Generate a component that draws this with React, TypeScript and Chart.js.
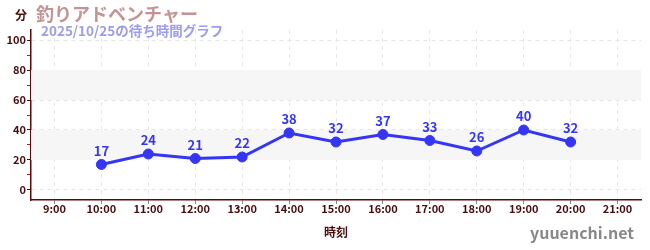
import React, { useEffect, useRef } from "react";
import { Chart, registerables } from "chart.js";

Chart.register(...registerables);

const hours = ["9:00", "10:00", "11:00", "12:00", "13:00", "14:00", "15:00", "16:00", "17:00", "18:00", "19:00", "20:00", "21:00"];
const waitMinutes: (number | null)[] = [null, 17, 24, 21, 22, 38, 32, 37, 33, 26, 40, 32, null];
const yTicks = [0, 10, 20, 30, 40, 50, 60, 70, 80, 90, 100];
const bands: [number, number][] = [[20, 40], [60, 80]];

const titleText = "釣りアドベンチャー";
const subtitleText = "2025/10/25の待ち時間グラフ";
const unitText = "分";
const xTitleText = "時刻";
const watermarkText = "yuuenchi.net";

const FONT = "'Noto Sans CJK JP', 'Noto Sans', sans-serif";
const BLUE = "#3535f5";
const AXIS = "#5a0a0a";
const LABEL = "#4a0d0d";

export default function App() {
  const ref = useRef<HTMLCanvasElement>(null);
  useEffect(() => {
    document.body.style.margin = "0";
    const bandPlugin = {
      id: "bands",
      beforeDatasetsDraw(chart: any) {
        const { ctx, chartArea, scales } = chart;
        ctx.save();
        ctx.fillStyle = "#f6f6f6";
        for (const [a, b] of bands) {
          const y1 = scales.y.getPixelForValue(b);
          const y2 = scales.y.getPixelForValue(a);
          ctx.fillRect(chartArea.left, y1, chartArea.right - chartArea.left, y2 - y1);
        }
        ctx.restore();
      },
    };
    const textPlugin = {
      id: "texts",
      afterDatasetsDraw(chart: any) {
        const { ctx } = chart;
        ctx.save();
        const meta = chart.getDatasetMeta(0);
        ctx.fillStyle = BLUE;
        ctx.font = `bold 13px ${FONT}`;
        ctx.textAlign = "center";
        ctx.textBaseline = "bottom";
        meta.data.forEach((pt: any, i: number) => {
          const v = waitMinutes[i];
          if (v == null) return;
          ctx.fillText(String(v), pt.x, pt.y - 7);
        });
        ctx.restore();
      },
      afterDraw(chart: any) {
        const { ctx, width, height } = chart;
        ctx.save();
        ctx.textBaseline = "middle";
        ctx.textAlign = "left";
        ctx.fillStyle = LABEL;
        ctx.font = `bold 12px ${FONT}`;
        ctx.fillText(unitText, 15, 15);
        ctx.fillStyle = "#c49494";
        ctx.font = `bold 18px ${FONT}`;
        ctx.fillText(titleText, 36, 14);
        ctx.fillStyle = "#9c9cf0";
        ctx.font = `bold 13.5px ${FONT}`;
        ctx.fillText(subtitleText, 41, 31);
        ctx.fillStyle = "#888888";
        ctx.font = `bold 16px ${FONT}`;
        ctx.textAlign = "right";
        ctx.fillText(watermarkText, width - 16, height - 17);
        ctx.restore();
      },
    };
    const chart = new Chart(ref.current!, {
      type: "line",
      data: {
        labels: hours,
        datasets: [
          {
            data: waitMinutes,
            borderColor: BLUE,
            backgroundColor: BLUE,
            borderWidth: 3,
            pointRadius: 5,
            pointHoverRadius: 5,
            pointBorderWidth: 1,
            spanGaps: false,
            tension: 0,
          },
        ],
      },
      options: {
        animation: false,
        responsive: false,
        layout: { padding: { top: 30, right: 9, left: 0, bottom: 0 } },
        plugins: { legend: { display: false }, tooltip: { enabled: false }, title: { display: false } },
        scales: {
          x: {
            type: "category",
            offset: true,
            afterFit(scale: any) { scale.height = 50; },
            grid: {
              color: "#e8e8e8",
              tickColor: "#888888",
              tickLength: 4,
              tickBorderDash: [],
              offset: false,
            },
            border: { color: AXIS, width: 1.5, dash: [4, 4] },
            ticks: { color: LABEL, font: { family: FONT, size: 11, weight: "bold" }, padding: -2, maxRotation: 0, autoSkip: false },
            title: { display: true, text: xTitleText, color: LABEL, font: { family: FONT, size: 12, weight: "bold" }, padding: { top: 0, bottom: 10 } },
          },
          y: {
            min: -6.67,
            max: 106.67,
            afterFit(scale: any) { scale.width = 31; },
            afterBuildTicks(scale: any) { scale.ticks = yTicks.map((v) => ({ value: v })); },
            grid: {
              color: (c: any) => (c.tick && c.tick.value % 20 === 0 ? "#e6e6e6" : "rgba(0,0,0,0)"),
              tickColor: (c: any) => (c.tick && c.tick.value % 20 === 0 ? AXIS : "#d01010"),
              tickLength: 4,
              tickBorderDash: [],
            },
            border: { color: AXIS, width: 1.5, dash: [4, 4] },
            ticks: {
              color: LABEL,
              font: { family: FONT, size: 11, weight: "bold" },
              padding: 1,
              autoSkip: false,
              callback: (v: any) => (Number(v) % 20 === 0 ? String(v) : ""),
            },
          },
        },
      } as any,
      plugins: [bandPlugin, textPlugin],
    });
    return () => chart.destroy();
  }, []);
  return <canvas ref={ref} width={650} height={250} style={{ display: "block" }} />;
}
